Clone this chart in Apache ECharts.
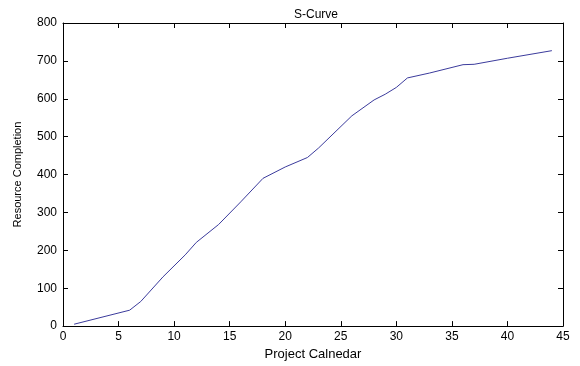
<!DOCTYPE html>
<html>
<head>
<meta charset="utf-8">
<script src="https://cdn.jsdelivr.net/npm/echarts@6/dist/echarts.min.js"></script>
<style>
  html, body { margin: 0; padding: 0; background: #fff; }
  #chart { width: 580px; height: 366px; }
</style>
</head>
<body>
<div id="chart"></div>
<script>
// project day and cumulative resource completion
const days = [1, 6, 7, 9, 11, 12, 14, 16, 18, 20, 22, 23, 26, 28, 29, 30, 31, 33, 36, 37, 40, 44]
const completion = [5, 42, 65, 130, 188, 221, 268, 328, 390, 420, 445, 470, 555, 597, 612, 630, 655, 668, 690, 691, 707, 727]

const font = 'Liberation Sans, Arial, sans-serif'
const ink = '#000'

const boxAxis = (extra) => Object.assign({
  axisLine: { show: true, onZero: false, lineStyle: { color: ink, width: 1 } },
  axisTick: { show: true, inside: true, length: 5, lineStyle: { color: ink } },
  splitLine: { show: false },
  axisLabel: { show: false }
}, extra)

const chart = echarts.init(document.getElementById('chart'))
chart.setOption({
  animation: false,
  backgroundColor: '#fff',
  title: {
    text: 'S-Curve',
    left: 311,
    textAlign: 'center',
    top: 4,
    textStyle: { fontFamily: font, fontSize: 12, fontWeight: 'normal', color: ink }
  },
  grid: { left: 63, right: 17, top: 23, bottom: 36 },
  xAxis: [
    boxAxis({
      type: 'value', min: 0, max: 45, interval: 5, position: 'bottom',
      name: 'Project Calnedar', nameLocation: 'middle', nameGap: 20,
      nameTextStyle: { fontFamily: font, fontSize: 13, color: ink },
      axisLabel: { show: true, fontFamily: font, fontSize: 12, color: ink, margin: 5 }
    }),
    boxAxis({ type: 'value', min: 0, max: 45, interval: 5, position: 'top' })
  ],
  yAxis: [
    boxAxis({
      type: 'value', min: 0, max: 800, interval: 100, position: 'left',
      name: 'Resource Completion', nameLocation: 'middle', nameGap: 40,
      nameTextStyle: { fontFamily: font, fontSize: 11, color: ink },
      axisLabel: { show: true, fontFamily: font, fontSize: 12, color: ink, margin: 6 }
    }),
    boxAxis({ type: 'value', min: 0, max: 800, interval: 100, position: 'right' })
  ],
  series: [{
    type: 'line',
    xAxisIndex: 0,
    yAxisIndex: 0,
    data: days.map((d, i) => [d, completion[i]]),
    showSymbol: false,
    lineStyle: { color: '#3b3b9c', width: 1 }
  }]
})
</script>
</body>
</html>
